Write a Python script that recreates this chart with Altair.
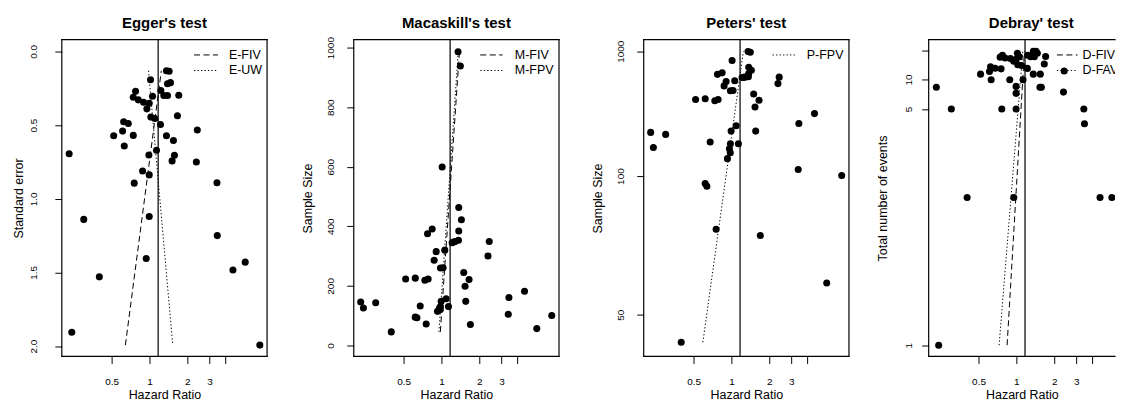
import altair as alt
import pandas as pd

FONT = "Liberation Sans"

# ---------------- data ----------------
# Egger's test: hazard ratio vs standard error
egger_hr = [1.364, 1.433, 1.019, 1.39, 1.468, 0.775, 1.231, 1.709, 1.30, 1.39, 1.057, 0.743,
            0.814, 0.897, 0.995, 0.953, 1.668, 1.025, 1.103, 0.623, 0.678, 1.223, 2.40, 0.611,
            0.519, 0.743, 1.364, 1.55, 0.630, 1.137, 0.2296, 0.989, 1.579, 1.513, 2.359, 0.881,
            0.995, 0.756, 3.44, 0.300, 0.995, 0.9416, 3.46, 4.61, 5.77, 0.399, 0.241, 7.54]
egger_se = [0.131, 0.135, 0.192, 0.219, 0.212, 0.270, 0.266, 0.298, 0.300, 0.300, 0.304, 0.311,
            0.329, 0.345, 0.352, 0.390, 0.437, 0.446, 0.455, 0.478, 0.489, 0.496, 0.534, 0.541,
            0.572, 0.570, 0.572, 0.604, 0.642, 0.671, 0.694, 0.703, 0.705, 0.743, 0.750, 0.811,
            0.838, 0.894, 0.892, 1.140, 1.120, 1.406, 1.250, 1.484, 1.430, 1.530, 1.906, 1.993]

# Macaskill's and Peters' tests: hazard ratio vs sample size
ss_hr = [1.356, 1.414, 1.013, 1.373, 1.441, 0.844, 0.775, 1.373, 1.216, 1.25, 1.284, 1.365,
         2.40, 0.908, 1.063, 2.345, 0.875, 0.982, 1.031, 1.504, 0.519, 0.619, 0.738, 0.784,
         1.658, 1.541, 0.228, 0.2396, 0.300, 1.56, 1.09, 0.678, 0.995, 1.137, 0.982, 0.964,
         0.98, 0.93, 0.619, 0.638, 0.756, 0.399, 1.699, 3.44, 4.58, 3.40, 7.54, 5.73]
ss_n = [986, 938, 599, 463, 422, 391, 375, 384, 345, 347, 349, 353,
        349, 315, 320, 300, 286, 260, 261, 245, 223, 226, 219, 223,
        221, 199, 146, 126, 143, 148, 157, 132.6, 148, 130.4, 130.4, 124.6,
        120.3, 114.4, 95, 93.2, 72.3, 45.5, 70, 161, 182, 105, 100.5, 56.5]

# Debray's test: hazard ratio vs total number of events (visible part)
deb_hr = [1.364, 1.433, 1.019, 1.39, 1.468, 0.775, 1.231, 1.709, 1.30, 1.39, 1.057, 0.743,
          0.814, 0.897, 0.995, 0.953, 1.668, 1.025, 1.103, 0.623, 0.678, 1.223, 2.40, 0.611,
          0.519, 0.756, 1.364, 1.55, 0.63, 1.13, 0.231, 0.995, 1.58, 1.54, 2.37, 0.886,
          0.995, 0.766, 3.44, 0.304, 0.995, 0.954, 3.48, 4.63, 5.75, 0.406, 0.241]
deb_ev = [230, 220, 90, 83, 89, 55, 56, 45, 44, 44, 43, 41,
          37, 34, 32, 26, 21, 20, 19, 17.5, 16.1, 16, 14, 13.7,
          12.2, 15.6, 12.2, 12.2, 9.9, 9.9, 7.9, 8.1, 7.9, 7.9, 7.0, 9.9,
          6.8, 5, 5, 5, 5, 2, 4, 2, 2, 2, 1]

# regression lines (end points)
e_fiv_hr, e_fiv_se = [1.242, 0.643], [0.131, 1.993]
e_uw_hr, e_uw_se = [0.982, 1.531], [0.131, 1.993]
m_fiv_hr, m_fiv_n = [1.39, 0.98], [986, 45.5]
m_fpv_hr, m_fpv_n = [1.36, 0.955], [986, 45.5]
p_fpv_hr, p_fpv_n = [1.245, 0.593], [986, 45.5]
d_fiv_hr, d_fiv_ev = [1.159, 0.844], [230, 1]
d_fav_hr, d_fav_ev = [1.125, 0.729], [230, 1]

ref_hr = [1.172]

titles = ["Egger's test", "Macaskill's test", "Peters' test", "Debray' test"]
egger_legend = ["E-FIV", "E-UW"]
mac_legend = ["M-FIV", "M-FPV"]
pet_legend = ["P-FPV"]
deb_legend = ["D-FIV", "D-FAV"]

x_ticks = [0.5, 1, 2, 3, 4]

# ---------------- layout constants ----------------
W, H = 206, 318
X_LO, X_HI = 0.2007, 8.61
PX_PER_LN = 54.8
DASH = [6, 3.5]
DOT = [1.3, 2.2]
TICK_FS = 10


def x_enc(x_hi):
    return alt.X(
        "hr:Q",
        scale=alt.Scale(type="log", domain=[X_LO, x_hi], nice=False),
        axis=alt.Axis(
            values=x_ticks, format="~g",
            labelExpr="datum.value > 3.5 ? '' : datum.label",
            title="Hazard Ratio", domain=False, grid=False,
            tickSize=7, tickColor="black", tickWidth=1,
            labelFont=FONT, labelFontSize=TICK_FS, labelColor="black",
            labelBaseline="alphabetic", labelPadding=21.5, labelFlush=False,
            labelOverlap=False,
            titleFont=FONT, titleFontSize=12.5, titleFontWeight="normal",
            titleColor="black", titleY=42.2, titleBaseline="alphabetic",
        ),
    )


def y_enc(field, domain, reverse, values, title, pad, title_x, extent,
          label_expr=None, fmt=None):
    kw = dict(
        values=values, title=title, domain=False, grid=False,
        tickSize=7, tickColor="black", tickWidth=1,
        labelFont=FONT, labelFontSize=TICK_FS, labelColor="black",
        labelAngle=270, labelAlign="center", labelBaseline="alphabetic",
        labelPadding=pad, labelFlush=False, labelOverlap=False,
        titleFont=FONT, titleFontSize=12.5, titleFontWeight="normal",
        titleColor="black", titleAngle=270, titleAlign="center",
        titleBaseline="middle", titleX=title_x, titleY=H / 2,
        minExtent=extent, maxExtent=extent,
    )
    if label_expr is not None:
        kw["labelExpr"] = label_expr
    if fmt is not None:
        kw["format"] = fmt
    return alt.Y(field, scale=alt.Scale(domain=domain, reverse=reverse, nice=False, zero=False),
                 axis=alt.Axis(**kw))


def frame(width, right=True):
    d = pd.DataFrame({"k": [0]})
    rule = dict(color="black", strokeWidth=1.2, strokeCap="square")
    parts = [
        alt.Chart(d).mark_rule(**rule).encode(x=alt.value(0), x2=alt.value(width), y=alt.value(0)),
        alt.Chart(d).mark_rule(**rule).encode(x=alt.value(0), x2=alt.value(width), y=alt.value(H)),
        alt.Chart(d).mark_rule(**rule).encode(x=alt.value(0), y=alt.value(0), y2=alt.value(H)),
    ]
    if right:
        parts.append(alt.Chart(d).mark_rule(**rule).encode(
            x=alt.value(width), y=alt.value(0), y2=alt.value(H)))
    return parts


def legend(labels, dashes, lx0, lx1, tx):
    parts = []
    for i, (lab, dash) in enumerate(zip(labels, dashes)):
        yy = 15.4 + 15.6 * i
        d = pd.DataFrame({"label": [lab]})
        parts.append(alt.Chart(d).mark_rule(color="black", strokeWidth=1, strokeDash=dash,
                                            clip=True).encode(
            x=alt.value(lx0), x2=alt.value(lx1), y=alt.value(yy)))
        parts.append(alt.Chart(d).mark_text(align="left", baseline="middle", font=FONT,
                                            fontSize=12.5, color="black", clip=True).encode(
            x=alt.value(tx), y=alt.value(yy), text="label:N"))
    return parts


def panel(title, pts, lines, y, legend_parts, width=W, x_hi=X_HI, calc=None):
    X = x_enc(x_hi)

    def tr(c):
        return c.transform_calculate(y=calc) if calc else c

    layers = frame(width, right=(width == W))
    layers.append(alt.Chart(pd.DataFrame({"hr": ref_hr})).mark_rule(
        color="#111", strokeWidth=1.3).encode(x=X))
    for df, dash in lines:
        layers.append(tr(alt.Chart(df)).mark_line(color="black", strokeWidth=1, strokeDash=dash,
                                                  clip=True).encode(x=X, y=y))
    layers.append(tr(alt.Chart(pts)).mark_circle(size=50, color="black", opacity=1, clip=True)
                  .encode(x=X, y=y))
    layers += legend_parts
    # panel title, centred over the full 206 px box
    layers.append(alt.Chart(pd.DataFrame({"t": [title]})).mark_text(
        align="center", baseline="alphabetic", font=FONT, fontSize=15, fontWeight="bold",
        color="black").encode(x=alt.value(W / 2), y=alt.value(-12), text="t:N"))
    return alt.layer(*layers).properties(width=width, height=H)


# ---- Egger ----
p1 = panel(
    titles[0],
    pd.DataFrame({"hr": egger_hr, "y": egger_se}),
    [(pd.DataFrame({"hr": e_fiv_hr, "y": e_fiv_se}), DASH),
     (pd.DataFrame({"hr": e_uw_hr, "y": e_uw_se}), DOT)],
    y_enc("y:Q", [-0.08, 2.07], True, [0, 0.5, 1, 1.5, 2], "Standard error",
          18.6, -43, 54, fmt=".1f"),
    legend(egger_legend, [DASH, DOT], 132.7, 156.7, 167.7),
)

# ---- Macaskill ----
p2 = panel(
    titles[1],
    pd.DataFrame({"hr": ss_hr, "y": ss_n}),
    [(pd.DataFrame({"hr": m_fiv_hr, "y": m_fiv_n}), DASH),
     (pd.DataFrame({"hr": m_fpv_hr, "y": m_fpv_n}), DOT)],
    y_enc("y:Q", [-37, 1027], False, [0, 200, 400, 600, 800, 1000], "Sample Size",
          13.1, -46, 86, fmt="d"),
    legend(mac_legend, [DASH, DOT], 127, 149.4, 161.7),
)

# ---- Peters ----
p3 = panel(
    titles[2],
    pd.DataFrame({"hr": ss_hr, "n": ss_n}),
    [(pd.DataFrame({"hr": p_fpv_hr, "n": p_fpv_n}), DOT)],
    y_enc("y:Q", [0.00016, 0.0230], True, [0.001, 0.01, 0.02], "Sample Size",
          13.1, -46, 84, label_expr="format(round(1/datum.value), 'd')"),
    legend(pet_legend, [DOT], 129.4, 152, 163.7),
    calc="1/datum.n",
)

# ---- Debray (cut by the right edge of the picture) ----
W4 = 187
p4 = panel(
    titles[3],
    pd.DataFrame({"hr": deb_hr, "n": deb_ev}),
    [(pd.DataFrame({"hr": d_fiv_hr, "n": d_fiv_ev}), DASH),
     (pd.DataFrame({"hr": d_fav_hr, "n": d_fav_ev}), DOT)],
    y_enc("y:Q", [-0.035, 1.038], True, [1, 0.2, 0.1, 0.002], "Total number of events",
          10.6, -46, 79,
          label_expr="datum.value < 0.05 ? '' : format(round(1/datum.value), 'd')"),
    legend(deb_legend, [DASH, DOT], 128.7, 149.4, 154.4),
    width=W4, x_hi=X_LO * 2.718281828 ** (W4 / PX_PER_LN), calc="1/datum.n",
)

chart = (
    alt.hconcat(p1, p2, p3, p4, spacing=0)
    .properties(padding={"left": 0, "right": 0, "top": 7, "bottom": 0})
    .configure_view(strokeWidth=0)
)

chart.save("out.html", embed_options={"renderer": "svg", "actions": False})
